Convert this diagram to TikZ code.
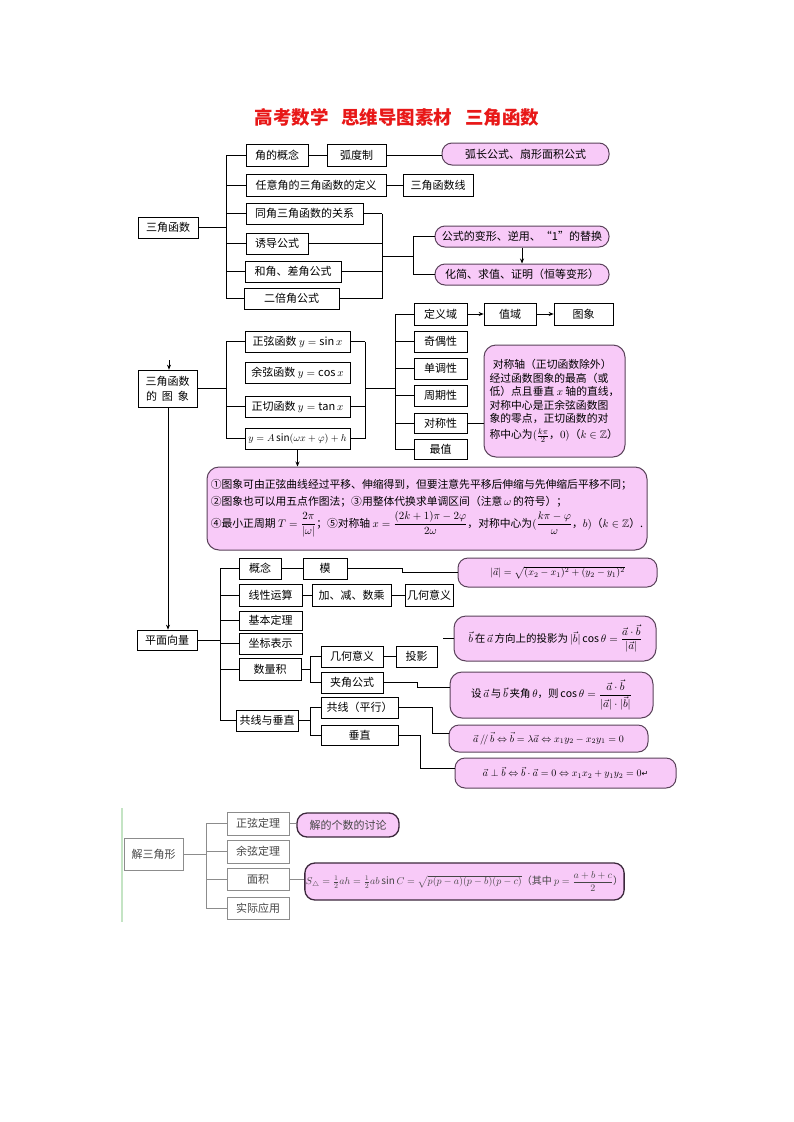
\documentclass[tikz,border=0pt]{standalone}
\usepackage{amsmath,amssymb}
\usepackage{fontspec}
\setmainfont{Noto Sans CJK SC}
\newfontfamily\symfont{DejaVu Sans}
\usetikzlibrary{arrows.meta}
\definecolor{pinkfill}{RGB}{248,202,248}
\definecolor{pinkline}{RGB}{90,66,90}
\definecolor{titlered}{RGB}{232,24,24}
\definecolor{graybox}{RGB}{140,140,140}
\definecolor{graytext}{RGB}{70,70,70}
\definecolor{greenline}{RGB}{196,228,196}
\definecolor{darkpill}{RGB}{60,40,60}
\newcommand\BX[7][]{\node[#1,minimum width={(#5)-(#3)},minimum height={(#6)-(#4)}] (#2) at ({((#3)+(#5))/2},{((#4)+(#6))/2}) {#7};}
\begin{document}
\begin{tikzpicture}[x=1pt,y=-1pt,line width=0.7pt,
  font=\fontsize{11}{13}\selectfont,
  bx/.style={draw,fill=white,inner sep=1pt,line width=0.7pt},
  pill/.style={draw=pinkline,fill=pinkfill,line width=1pt,rounded corners=10pt,inner sep=1pt},
  cbox/.style={pill,rounded corners=12pt},
  gbox/.style={draw=graybox,fill=white,text=graytext,inner sep=1pt,line width=1pt},
  gpill/.style={pill,draw=darkpill,line width=1.3pt,text=graytext},
  glink/.style={draw=graybox,line width=1pt},
  arr/.style={-{Stealth[length=5pt,width=4pt]}}]
\fill[white] (0,0) rectangle (793,1122);
\path[use as bounding box] (0,0) rectangle (793,1122);

% title
\node[font=\fontsize{18.5}{22}\selectfont\bfseries,text=titlered] (title) at (397,117) {高考数学\hspace{0.7em}思维导图素材\hspace{0.7em}三角函数};

% ===== section 1
\BX[bx]{root1}{138}{217}{198}{238}{三角函数}
\BX[bx]{a1}{246}{144}{308}{166}{角的概念}
\BX[bx]{hudu}{327}{144}{386}{166}{弧度制}
\BX[pill]{p1}{442}{143}{609}{165}{弧长公式、扇形面积公式}
\BX[bx]{a2}{246}{174}{386}{196}{任意角的三角函数的定义}
\BX[bx]{sjhx}{403}{174}{473}{196}{三角函数线}
\BX[bx]{a3}{246}{203}{363}{224}{同角三角函数的关系}
\BX[bx]{a4}{246}{233}{308}{254}{诱导公式}
\BX[bx]{a5}{245}{261}{341}{282}{和角、差角公式}
\BX[bx]{a6}{244}{288}{339}{309}{二倍角公式}
\BX[pill]{p2}{435}{226}{609}{247}{公式的变形、逆用、“1”的替换}
\BX[pill]{p3}{435}{264}{609}{285}{化简、求值、证明（恒等变形）}

\coordinate (b1) at (226,0);
\draw (root1.east) -- (root1.east -| b1);
\draw (a1.west -| b1) -- (a6.west -| b1);
\foreach \n in {a1,a2,a3,a4,a5,a6} \draw (\n.west) -- (\n.west -| b1);
\draw (a1.east) -- (hudu.west);
\draw (hudu.east) -- (hudu.east -| p1.west);
\draw (a2.east) -- (sjhx.west);
\coordinate (b2) at (382,0);
\foreach \n in {a3,a4,a5,a6} \draw (\n.east) -- (\n.east -| b2);
\draw (a3.east -| b2) -- (a6.east -| b2);
\coordinate (b3) at (413,256);
\draw (b3 -| b2) -- (b3);
\draw (p2.west -| b3) -- (p3.west -| b3);
\draw (p2.west -| b3) -- (p2.west);
\draw (p3.west -| b3) -- (p3.west);
\draw[arr] (p2.south) -- (p3.north);

% ===== section 2
\BX[bx,align=center,font=\fontsize{11}{15}\selectfont]{root2}{138}{370}{197}{407}{三角函数\\的\hspace{0.45em}图\hspace{0.45em}象}
\BX[bx]{s1}{245}{331}{350}{352}{正弦函数 $y=\sin x$}
\BX[bx]{s2}{245}{362}{350}{383}{余弦函数 $y=\cos x$}
\BX[bx]{s3}{245}{396}{350}{417}{正切函数 $y=\tan x$}
\BX[bx,font=\fontsize{10}{12}\selectfont]{s4}{245}{428}{350}{449}{$y=A\sin(\omega x+\varphi)+h$}
\BX[bx]{d1}{414}{303}{467}{325}{定义域}
\BX[bx]{zy}{484}{303}{536}{325}{值域}
\BX[bx]{tx}{554}{303}{613}{325}{图象}
\BX[bx]{d2}{414}{331}{467}{352}{奇偶性}
\BX[bx]{d3}{414}{358}{467}{379}{单调性}
\BX[bx]{d4}{414}{385}{467}{406}{周期性}
\BX[bx]{d5}{414}{413}{467}{433}{对称性}
\BX[bx]{d6}{414}{439}{467}{459}{最值}
\BX[cbox,align=left,font=\fontsize{10.8}{13.5}\selectfont]{sym}{484}{345}{625}{457}{\hspace{0.3em}对称轴（正切函数除外）\\经过函数图象的最高（或\\低）点且垂直 $x$ 轴的直线，\\对称中心是正余弦函数图\\象的零点，正切函数的对\\[2pt]称中心为$(\frac{k\pi}{2}$，$0)$（$k\in\mathbb{Z}$）}
\BX[cbox,align=left,font=\fontsize{10.8}{13}\selectfont]{tips}{207}{467}{647}{550}{①图象可由正弦曲线经过平移、伸缩得到，但要注意先平移后伸缩与先伸缩后平移不同；\\[4pt]②图象也可以用五点作图法；③用整体代换求单调区间（注意\,$\omega$\,的符号）；\\[3pt]④最小正周期 $T=\dfrac{2\pi}{|\omega|}$；⑤对称轴 $x=\dfrac{(2k+1)\pi-2\varphi}{2\omega}$，对称中心为$(\dfrac{k\pi-\varphi}{\omega}$，$b)$（$k\in\mathbb{Z}$）.}

\coordinate (c1) at (226,0);
\coordinate (c2) at (365,0);
\coordinate (c3) at (395,0);
\draw (root2.east) -- (root2.east -| c1);
\draw (s1.west -| c1) -- (s4.west -| c1);
\foreach \n in {s1,s3,s4} \draw (\n.west) -- (\n.west -| c1);
\draw (s1.east -| c2) -- (s4.east -| c2);
\foreach \n in {s1,s3,s4} \draw (\n.east) -- (\n.east -| c2);
\draw (root2.east -| c2) -- (root2.east -| c3);
\draw (d1.west -| c3) -- (d6.west -| c3);
\foreach \n in {d1,d2,d3,d4,d5,d6} \draw (\n.west) -- (\n.west -| c3);
\draw[arr] (d1.east) -- (zy.west);
\draw[arr] (zy.east) -- (tx.west);
\draw (d5.east) -- (d5.east -| sym.west);
\coordinate (ta) at (169,360);
\draw[arr] (ta) -- (ta |- root2.north);
\draw[arr] (s4.south) -- (s4.south |- tips.north);

% ===== section 3
\BX[bx]{root3}{137}{630}{197}{650}{平面向量}
\BX[bx]{v1}{239}{558}{281}{579}{概念}
\BX[bx]{mo}{303}{558}{347}{579}{模}
\BX[pill,font=\fontsize{10}{12}\selectfont]{q1}{458}{558}{657}{587}{$|\vec a|=\sqrt{(x_2-x_1)^2+(y_2-y_1)^2}$}
\BX[bx]{v2}{239}{584}{302}{606}{线性运算}
\BX[bx]{jj}{312}{584}{391}{606}{加、减、数乘}
\BX[bx]{jh}{405}{584}{453}{606}{几何意义}
\BX[bx]{v3}{239}{611}{302}{630}{基本定理}
\BX[bx]{v4}{239}{633}{302}{654}{坐标表示}
\BX[bx]{v5}{239}{658}{301}{680}{数量积}
\BX[bx]{v6}{236}{710}{298}{731}{共线与垂直}
\BX[bx]{gy}{321}{646}{383}{667}{几何意义}
\BX[bx]{ty}{396}{646}{437}{667}{投影}
\BX[bx]{jg}{321}{672}{383}{693}{夹角公式}
\BX[bx]{gx}{321}{697}{398}{718}{共线（平行）}
\BX[bx]{cz}{321}{725}{398}{745}{垂直}
\BX[cbox,font=\fontsize{10.5}{12.5}\selectfont]{q2}{454}{616}{656}{661}{$\vec b$\,在\,$\vec a$\,方向上的投影为\,$|\vec b|\cos\theta=\dfrac{\vec a\cdot\vec b}{|\vec a|}$}
\BX[cbox,font=\fontsize{10.5}{12.5}\selectfont]{q3}{450}{672}{653}{718}{设\,$\vec a$\,与\,$\vec b$\,夹角\,$\theta$，则\,$\cos\theta=\dfrac{\vec a\cdot\vec b}{|\vec a|\cdot|\vec b|}$}
\BX[pill,font=\fontsize{10}{12}\selectfont]{q4}{449}{725}{648}{752}{$\vec a\,/\!/\,\vec b\Leftrightarrow\vec b=\lambda\vec a\Leftrightarrow x_1y_2-x_2y_1=0$}
\BX[pill,font=\fontsize{10}{12}\selectfont]{q5}{455}{758}{676}{788}{$\vec a\perp\vec b\Leftrightarrow\vec b\cdot\vec a=0\Leftrightarrow x_1x_2+y_1y_2=0${\symfont\fontsize{8}{8}\selectfont ↵}}

\coordinate (vx) at (168,0);
\draw[arr] (root2.south -| vx) -- (root3.north -| vx);
\coordinate (e0) at (220,0);
\draw (root3.east) -- (root3.east -| e0);
\draw (v1.west -| e0) -- (v6.west -| e0);
\foreach \n in {v1,v2,v3,v4,v5,v6} \draw (\n.west) -- (\n.west -| e0);
\draw (v1.east) -- (mo.west);
\coordinate (m1) at (402,0);
\draw (mo.east) -- (mo.east -| m1) -- (q1.west -| m1) -- (q1.west);
\draw (v2.east) -- (jj.west);
\draw (jj.east) -- (jh.west);
\draw (gy.east) -- (ty.west);
\coordinate (f1) at (310,0);
\draw (v5.east) -- (v5.east -| f1);
\draw (gy.west -| f1) -- (jg.west -| f1);
\draw (gy.west -| f1) -- (gy.west);
\draw (jg.west -| f1) -- (jg.west);
\draw (v6.east) -- (v6.east -| f1);
\draw (gx.west -| f1) -- (cz.west -| f1);
\draw (gx.west -| f1) -- (gx.west);
\draw (cz.west -| f1) -- (cz.west);
\coordinate (q2s) at (443,638.5);
\draw (q2s) -- (q2s -| q2.west);
\coordinate (g1) at (417,687);
\draw (jg.east) -| (g1) -- (g1 -| q3.west);
\coordinate (k1) at (432,733);
\draw (gx.east) -| (k1) -- (k1 -| q4.west);
\coordinate (k2) at (420,768);
\draw (cz.east) -| (k2) -- (k2 -| q5.west);

% ===== section 4
\draw[greenline,line width=2pt] (122,808) -- (122,922);
\BX[gbox]{root4}{124}{838}{183}{870}{解三角形}
\BX[gbox]{w1}{227}{812}{289}{835}{正弦定理}
\BX[gbox]{w2}{227}{840}{289}{863}{余弦定理}
\BX[gbox]{w3}{227}{868}{289}{890}{面积}
\BX[gbox]{w4}{227}{897}{289}{919}{实际应用}
\BX[gpill]{r1}{297}{813}{399}{837}{解的个数的讨论}
\BX[gpill,font=\fontsize{10}{12}\selectfont]{r2}{308}{863}{621}{900}{$S_{\triangle}=\frac12ah=\frac12ab\sin C=\sqrt{p(p-a)(p-b)(p-c)}$（其中 $p=\dfrac{a+b+c}{2}$）}
\coordinate (h0) at (206,0);
\draw[glink] (root4.east) -- (root4.east -| h0);
\draw[glink] (w1.west -| h0) -- (w4.west -| h0);
\foreach \n in {w1,w2,w3,w4} \draw[glink] (\n.west) -- (\n.west -| h0);
\draw[glink] (w1.east) -- (w1.east -| r1.west);
\draw[glink] (w3.east) -- (w3.east -| r2.west);
\end{tikzpicture}
\end{document}
